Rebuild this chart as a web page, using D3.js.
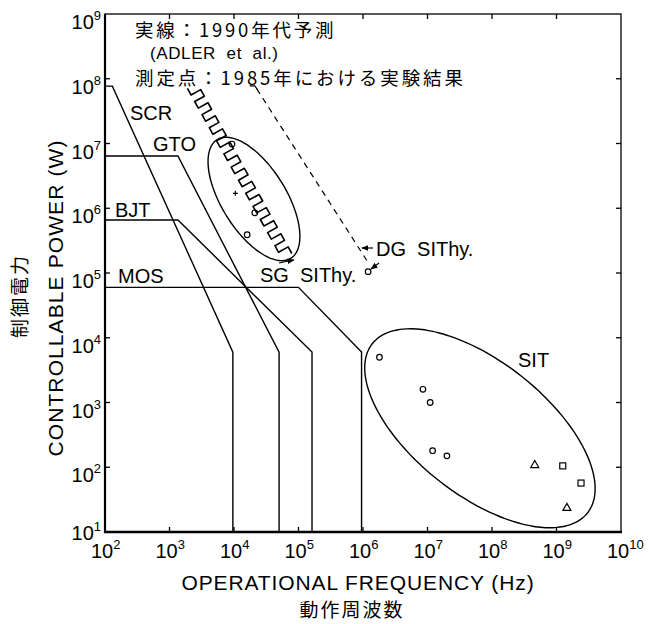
<!DOCTYPE html>
<html>
<head>
<meta charset="utf-8">
<script src="https://cdn.jsdelivr.net/npm/d3@7"></script>
<style>
  body { margin: 0; background: #fff; }
  svg { display: block; }
  .lbl { font-family: "Liberation Sans", Arial, sans-serif; fill: #000; }
  .jp { font-family: "Noto Sans CJK JP", sans-serif; fill: #000; }
</style>
</head>
<body>
<svg id="chart" width="649" height="624"></svg>
<script>
// Axis decades (exponents of ten)
const xTickExps = [2, 3, 4, 5, 6, 7, 8, 9, 10];
const yTickExps = [1, 2, 3, 4, 5, 6, 7, 8, 9];

// 1990s projections (ADLER et al.): [frequency Hz, power W]
const scrLine = [[1e2, 7.7e7], [1.3e2, 7.7e7], [9.6e3, 6e3], [9.6e3, 10]];
const gtoLine = [[1e2, 6.4e6], [1.35e3, 6.4e6], [5e4, 6e3], [5e4, 10]];
const bjtLine = [[1e2, 6.6e5], [1.35e3, 6.6e5], [1.62e5, 6e3], [1.62e5, 10]];
const mosLine = [[1e2, 6e4], [1e5, 6e4], [9.5e5, 6e3], [9.5e5, 10]];

// 1985 measured points
const sgCircles = [[9.3e3, 9.8e6], [2.1e4, 8.5e5], [1.6e4, 3.9e5]];
const sgPlus = [[1.05e4, 1.7e6]];
const dgCircles = [[1.2e6, 1.05e5]];
const sitCircles = [[1.8e6, 5e3], [8.5e6, 1.6e3], [1.1e7, 1.0e3], [1.2e7, 1.8e2], [2e7, 1.5e2]];
const sitTriangles = [[4.6e8, 1.1e2], [1.45e9, 24]];
const sitSquares = [[1.25e9, 1.05e2], [2.4e9, 57]];

// SIThy hatched limit (start, end) and dashed leader
const hatchBand = [[2.25e3, 7.8e7], [6.9e4, 1.7e5]];
const dashLeader = [[2.25e4, 7.0e7], [1.15e6, 1.55e5]];

// Regions: center [Hz, W], semi-axes in decades, tilt in degrees
const sgRegion = { center: [2.04e4, 1.39e6], a: 1.08, b: 0.50, tilt: 58 };
const sitRegion = { center: [6.5e7, 4.0e2], a: 2.12, b: 1.03, tilt: 38 };

const svg = d3.select("#chart");
const x = d3.scaleLog().domain([1e2, 1e10]).range([105, 621]);
const y = d3.scaleLog().domain([10, 1e9]).range([532, 14]);

const line = d3.line().x(d => x(d[0])).y(d => y(d[1]));

// frame
svg.append("rect").attr("x", 105).attr("y", 14)
    .attr("width", x(1e10) - x(1e2)).attr("height", y(10) - y(1e9))
    .attr("fill", "none").attr("stroke", "#000").attr("stroke-width", 1.3);
svg.append("line").attr("x1", 105).attr("x2", 105).attr("y1", 14).attr("y2", 533)
    .attr("stroke", "#000").attr("stroke-width", 2.2);
svg.append("line").attr("x1", 104).attr("x2", 622).attr("y1", 532).attr("y2", 532)
    .attr("stroke", "#000").attr("stroke-width", 2.5);

// inward ticks on all four sides
const tickLen = 5;
const g = svg.append("g").attr("stroke", "#000").attr("stroke-width", 1.3);
xTickExps.slice(1, -1).forEach(e => {
    const px = x(Math.pow(10, e));
    g.append("line").attr("x1", px).attr("x2", px).attr("y1", 532).attr("y2", 532 - tickLen);
    g.append("line").attr("x1", px).attr("x2", px).attr("y1", 14).attr("y2", 14 + tickLen);
});
yTickExps.slice(1, -1).forEach(e => {
    const py = y(Math.pow(10, e));
    g.append("line").attr("x1", 105).attr("x2", 105 + tickLen).attr("y1", py).attr("y2", py);
    g.append("line").attr("x1", 621).attr("x2", 621 - tickLen).attr("y1", py).attr("y2", py);
});

// tick labels 10^n
xTickExps.forEach(e => {
    const t = svg.append("text").attr("class", "lbl")
        .attr("x", x(Math.pow(10, e)) - 14).attr("y", 558).attr("font-size", 20);
    t.append("tspan").text("10");
    t.append("tspan").attr("dy", -9).attr("font-size", 13).text(e);
});
yTickExps.forEach(e => {
    const t = svg.append("text").attr("class", "lbl")
        .attr("x", 101).attr("y", y(Math.pow(10, e)) + (e === 1 ? 8 : 15))
        .attr("text-anchor", "end").attr("font-size", 20);
    t.append("tspan").text("10");
    t.append("tspan").attr("dy", -9).attr("font-size", 13).text(e);
});

// axis titles
svg.append("text").attr("class", "lbl").attr("x", 358).attr("y", 590)
    .attr("text-anchor", "middle").attr("font-size", 21).attr("letter-spacing", 0.9)
    .text("OPERATIONAL FREQUENCY (Hz)");
svg.append("text").attr("class", "jp").attr("x", 352).attr("y", 617)
    .attr("text-anchor", "middle").attr("font-size", 19).attr("letter-spacing", 2)
    .text("動作周波数");
svg.append("text").attr("class", "lbl")
    .attr("transform", "translate(63,298) rotate(-90)")
    .attr("text-anchor", "middle").attr("font-size", 21).attr("letter-spacing", 1.1)
    .text("CONTROLLABLE POWER (W)");
svg.append("text").attr("class", "jp")
    .attr("transform", "translate(27,296) rotate(-90)")
    .attr("text-anchor", "middle").attr("font-size", 19).attr("letter-spacing", 2)
    .text("制御電力");

// device limit lines
[scrLine, gtoLine, bjtLine, mosLine].forEach(d => {
    svg.append("path").attr("d", line(d))
        .attr("fill", "none").attr("stroke", "#000").attr("stroke-width", 1.4);
});

// ellipses drawn in log space
function regionPath(r) {
    const lx = Math.log10(r.center[0]), ly = Math.log10(r.center[1]);
    const phi = r.tilt * Math.PI / 180;
    const pts = d3.range(0, 361, 3).map(deg => {
        const th = deg * Math.PI / 180;
        const u = r.a * Math.cos(th), v = r.b * Math.sin(th);
        return [Math.pow(10, lx + u * Math.cos(phi) + v * Math.sin(phi)),
                Math.pow(10, ly - u * Math.sin(phi) + v * Math.cos(phi))];
    });
    return d3.line().curve(d3.curveBasisClosed).x(d => x(d[0])).y(d => y(d[1]))(pts);
}
[sgRegion, sitRegion].forEach(r => {
    svg.append("path").attr("d", regionPath(r))
        .attr("fill", "none").attr("stroke", "#000").attr("stroke-width", 1.4);
});

// hatched (crenellated) limit line
(function () {
    const p0 = [x(hatchBand[0][0]), y(hatchBand[0][1])];
    const p1 = [x(hatchBand[1][0]), y(hatchBand[1][1])];
    const dx = p1[0] - p0[0], dy = p1[1] - p0[1];
    const len = Math.hypot(dx, dy);
    const ux = dx / len, uy = dy / len, nx = -uy, ny = ux;
    const h = 5.5, step = 7.5;
    const n = Math.floor(len / step) - 1;
    let d = "";
    for (let i = 0; i <= n; i++) {
        const s = (i % 2 === 0) ? h : -h;
        const cx = p0[0] + ux * i * step, cy = p0[1] + uy * i * step;
        const a = [cx + nx * s, cy + ny * s];
        const b = [cx + ux * step + nx * s, cy + uy * step + ny * s];
        d += (i === 0 ? "M" : "L") + a[0].toFixed(1) + "," + a[1].toFixed(1)
            + "L" + b[0].toFixed(1) + "," + b[1].toFixed(1);
    }
    svg.append("path").attr("d", d).attr("fill", "none")
        .attr("stroke", "#000").attr("stroke-width", 1.6).attr("stroke-linejoin", "round");
})();

// dashed leader with hook
svg.append("path").attr("d", line(dashLeader))
    .attr("fill", "none").attr("stroke", "#000").attr("stroke-width", 1.2)
    .attr("stroke-dasharray", "6,5");
(function () {
    const px = x(dashLeader[0][0]), py = y(dashLeader[0][1]);
    svg.append("path").attr("d", `M${px - 7},${py - 3} L${px - 2},${py - 3} L${px + 1},${py + 1}`)
        .attr("fill", "none").attr("stroke", "#000").attr("stroke-width", 1.2);
})();

// markers
const mk = svg.append("g").attr("fill", "none").attr("stroke", "#000").attr("stroke-width", 1.2);
sgCircles.concat(dgCircles, sitCircles).forEach(d => {
    mk.append("circle").attr("cx", x(d[0])).attr("cy", y(d[1])).attr("r", 2.8);
});
sgPlus.forEach(d => {
    mk.append("path").attr("transform", `translate(${x(d[0])},${y(d[1])})`)
        .attr("d", "M-2.5,0H2.5M0,-2.5V2.5");
});
sitTriangles.forEach(d => {
    mk.append("path").attr("transform", `translate(${x(d[0])},${y(d[1])})`)
        .attr("d", "M0,-4L4,3H-4Z");
});
sitSquares.forEach(d => {
    mk.append("rect").attr("x", x(d[0]) - 3).attr("y", y(d[1]) - 3)
        .attr("width", 6).attr("height", 6);
});

// arrows
svg.append("defs").append("marker").attr("id", "ah")
    .attr("viewBox", "0 0 10 10").attr("refX", 9).attr("refY", 5)
    .attr("markerWidth", 6).attr("markerHeight", 6).attr("orient", "auto")
    .append("path").attr("d", "M0,1L10,5L0,9Z").attr("fill", "#000");
function arrow(x1, y1, x2, y2) {
    svg.append("line").attr("x1", x1).attr("y1", y1).attr("x2", x2).attr("y2", y2)
        .attr("stroke", "#000").attr("stroke-width", 1.2).attr("marker-end", "url(#ah)");
}
arrow(373, 248, 362, 248);
arrow(379, 263, 371, 269);
arrow(279, 263, 294, 260);

// labels
const labels = [
    ["SCR", 130, 120], ["GTO", 153, 151], ["BJT", 115, 217], ["MOS", 118, 283],
    ["SG  SIThy.", 260, 282], ["DG  SIThy.", 376, 256], ["SIT", 518, 367]
];
labels.forEach(l => {
    svg.append("text").attr("class", "lbl").attr("x", l[1]).attr("y", l[2])
        .attr("font-size", 20).attr("xml:space", "preserve").style("white-space", "pre")
        .text(l[0]);
});

// note text
svg.append("text").attr("class", "jp").attr("x", 135).attr("y", 37)
    .attr("font-size", 18.5).attr("letter-spacing", 2.8).text("実線：1990年代予測");
svg.append("text").attr("class", "lbl").attr("x", 150).attr("y", 59)
    .attr("font-size", 17).attr("letter-spacing", 0.6)
    .attr("xml:space", "preserve").style("white-space", "pre")
    .text("(ADLER  et  al.)");
svg.append("text").attr("class", "jp").attr("x", 135).attr("y", 84.5)
    .attr("font-size", 18.5).attr("letter-spacing", 2.9).text("測定点：1985年における実験結果");
</script>
</body>
</html>
